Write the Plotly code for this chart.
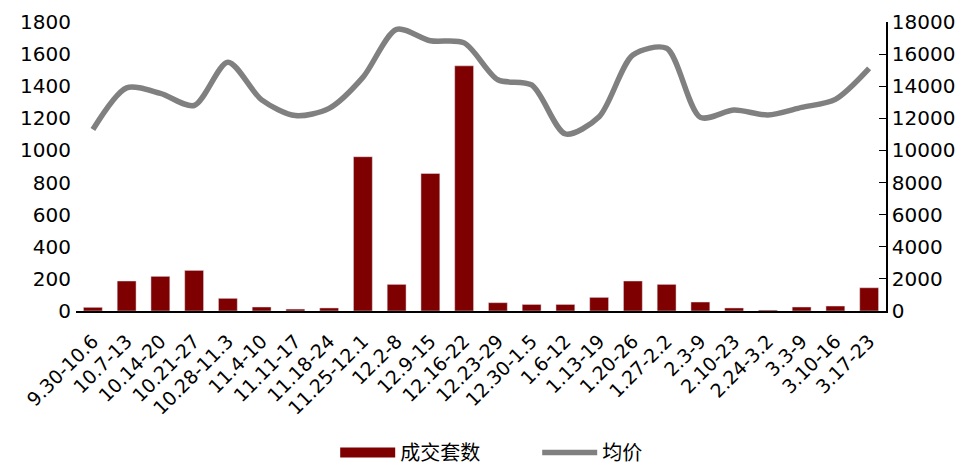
import plotly.graph_objects as go

categories = ["9.30-10.6", "10.7-13", "10.14-20", "10.21-27", "10.28-11.3", "11.4-10",
              "11.11-17", "11.18-24", "11.25-12.1", "12.2-8", "12.9-15", "12.16-22",
              "12.23-29", "12.30-1.5", "1.6-12", "1.13-19", "1.20-26", "1.27-2.2",
              "2.3-9", "2.10-23", "2.24-3.2", "3.3-9", "3.10-16", "3.17-23"]
volume = [23, 187, 216, 253, 79, 25, 12, 19, 961, 166, 857, 1527,
          52, 41, 41, 85, 187, 166, 56, 19, 6, 25, 31, 145]
avg_price = [11300, 13900, 13550, 12800, 15500, 13150, 12170, 12620, 14550, 17540, 16830, 16700,
             14400, 14080, 11030, 12100, 15940, 16360, 12060, 12520, 12210, 12680, 13180, 15110]

bar_color = "#7F0000"
line_color = "#808080"
font_family = "DejaVu Sans, Noto Sans CJK SC, sans-serif"

fig = go.Figure()
fig.add_trace(go.Bar(x=categories, y=volume, marker_color=bar_color, showlegend=False,
                     name="成交套数", yaxis="y"))
fig.add_trace(go.Scatter(x=categories, y=avg_price, mode="lines", yaxis="y2",
                         line=dict(color=line_color, width=5.5, shape="spline", smoothing=0.8),
                         showlegend=False, name="均价"))
# legend proxies
fig.add_trace(go.Scatter(x=[None], y=[None], mode="lines", name="成交套数",
                         line=dict(color=bar_color, width=12)))
fig.add_trace(go.Scatter(x=[None], y=[None], mode="lines", name="均价", yaxis="y2",
                         line=dict(color=line_color, width=5.5)))

fig.update_layout(
    width=957, height=459,
    margin=dict(l=68, r=79, t=14, b=156, autoexpand=False),
    paper_bgcolor="white", plot_bgcolor="white",
    font=dict(family=font_family, size=20, color="black"),
    bargap=0.44,
    xaxis=dict(tickangle=-45, showline=True, linecolor="black", linewidth=1.5,
               ticks="", tickfont=dict(size=19), showgrid=False, automargin=False,
               ticklabelstandoff=10),
    yaxis=dict(range=[0, 1800], dtick=200, showgrid=False, showline=False, ticks="",
               zeroline=False, tickfont=dict(size=20), automargin=False, ticklabelstandoff=4),
    yaxis2=dict(range=[0, 18000], dtick=2000, overlaying="y", side="right", showgrid=False,
                showline=True, linecolor="black", linewidth=1.5, ticks="inside", ticklen=7,
                tickcolor="black", zeroline=False, tickfont=dict(size=20), tickformat="d",
                automargin=False),
    legend=dict(orientation="h", x=0.32, xanchor="left", y=-0.49, yanchor="middle",
                itemwidth=55, font=dict(size=20, family="Noto Sans CJK SC"),
                entrywidth=132, entrywidthmode="pixels"),
)

fig.write_html("out.html")
